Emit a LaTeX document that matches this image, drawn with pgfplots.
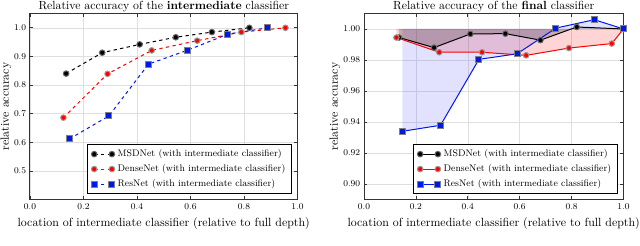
\documentclass[border=0pt]{standalone}
\usepackage{pgfplots}
\pgfplotsset{compat=1.18}
\definecolor{msd}{rgb}{0,0,0}
\definecolor{dense}{rgb}{1,0,0}
\definecolor{res}{rgb}{0.0,0.1,0.9}
\pgfplotsset{
  myax/.style={
    scale only axis,
    xmin=0, xmax=1,
    xtick={0,0.2,...,1.0},
    grid=major,
    grid style={gray!25, line width=0.5pt},
    axis line style={black!80, line width=0.9pt},
    tick align=inside,
    tick pos=both,
    major tick length=3pt,
    tick style={black!80, line width=0.6pt},
    ticklabel style={font=\fontsize{7.9}{9}\selectfont},
    x tick label style={/pgf/number format/.cd, fixed, fixed zerofill, precision=1},
    title style={inner sep=0pt, yshift=-5pt, font=\fontsize{10.6}{12}\selectfont},
    xlabel style={yshift=-0.5pt, font=\fontsize{10.7}{12}\selectfont},
    xlabel={location of intermediate classifier (relative to full depth)},
    ylabel={relative accuracy},
    legend style={at={(1,0)}, anchor=south east, xshift=-5pt, yshift=5pt,
      draw=black, line width=0.9pt, font=\fontsize{8.6}{10}\selectfont, fill=white,
      inner xsep=3pt, inner ysep=2pt, row sep=0.5pt,
      nodes={inner sep=2.5pt}},
    legend cell align=left,
    legend image code/.code={\draw[mark repeat=2,mark phase=1,#1] plot coordinates {(0cm,0cm) (0.28cm,0cm) (0.56cm,0cm)};},
  },
  msdst/.style={msd, mark=*, mark size=2.5pt, mark options={solid, fill=msd, draw=black!60}},
  densest/.style={dense, mark=*, mark size=2.5pt, mark options={solid, fill=dense, draw=black!40}},
  resst/.style={res, mark=square*, mark size=2.7pt, mark options={solid, fill=res, draw=black!50}},
}
\begin{document}
\begin{tikzpicture}
\useasboundingbox (0pt,0pt) rectangle (576pt,221.4pt);
% ---------------- left
\begin{axis}[myax,
  at={(27pt,41.85pt)}, anchor=south west,
  width=240.75pt, height=167.4pt,
  ymin=0.4, ymax=1.05,
  ytick={0.5,0.6,...,1.0},
  y tick label style={/pgf/number format/.cd, fixed, fixed zerofill, precision=1},
  ylabel style={at={(axis description cs:-0.09,0.5)}, anchor=center, font=\fontsize{10.7}{12}\selectfont},
  title={Relative accuracy of the \textbf{intermediate} classifier},
]
\addplot[msdst, dashed, line width=0.9pt] coordinates {
(0.135,0.840) (0.27,0.913) (0.41,0.942) (0.545,0.967) (0.68,0.985) (0.82,1.000)};
\addlegendentry{MSDNet (with intermediate classifier)}
\addplot[densest, dashed, line width=0.9pt] coordinates {
(0.125,0.686) (0.29,0.839) (0.455,0.921) (0.625,0.955) (0.79,0.985) (0.955,1.000)};
\addlegendentry{DenseNet (with intermediate classifier)}
\addplot[resst, dashed, line width=0.9pt] coordinates {
(0.148,0.612) (0.295,0.692) (0.443,0.873) (0.59,0.922) (0.74,0.978) (0.888,1.000)};
\addlegendentry{ResNet (with intermediate classifier)}
\end{axis}
% ---------------- right
\begin{axis}[myax,
  at={(327.6pt,41.85pt)}, anchor=south west,
  width=233.5pt, height=167.4pt,
  ymin=0.89, ymax=1.01,
  ytick={0.90,0.92,...,1.001},
  y tick label style={/pgf/number format/.cd, fixed, fixed zerofill, precision=2},
  ylabel style={at={(axis description cs:-0.112,0.5)}, anchor=center, font=\fontsize{10.7}{12}\selectfont},
  title={Relative accuracy of the \textbf{final} classifier},
]
\addplot[draw=none, fill=red, fill opacity=0.17, forget plot] coordinates {
(0.125,0.9945) (0.29,0.985) (0.455,0.985) (0.625,0.983) (0.79,0.9877) (0.955,0.9906) (1.0,1.0) (0.125,1.0)} -- cycle;
\addplot[draw=none, fill=blue!80!white, fill opacity=0.14, forget plot] coordinates {
(0.148,0.934) (0.295,0.9379) (0.443,0.9804) (0.59,0.984) (0.74,1.0006) (0.888,1.006) (1.0,1.0) (0.148,1.0)} -- cycle;
\addplot[draw=none, fill=black, fill opacity=0.2, forget plot] coordinates {
(0.135,0.9945) (0.27,0.988) (0.41,0.9968) (0.545,0.997) (0.68,0.9928) (0.82,1.0013) (1.0,1.0) (0.135,1.0)} -- cycle;
\addplot[msdst, line width=0.9pt] coordinates {
(0.135,0.9945) (0.27,0.988) (0.41,0.9968) (0.545,0.997) (0.68,0.9928) (0.82,1.0013) (1.0,1.0)};
\addlegendentry{MSDNet (with intermediate classifier)}
\addplot[densest, line width=0.9pt] coordinates {
(0.125,0.9945) (0.29,0.985) (0.455,0.985) (0.625,0.983) (0.79,0.9877) (0.955,0.9906) (1.0,1.0)};
\addlegendentry{DenseNet (with intermediate classifier)}
\addplot[resst, line width=0.9pt] coordinates {
(0.148,0.934) (0.295,0.9379) (0.443,0.9804) (0.59,0.984) (0.74,1.0006) (0.888,1.006) (1.0,1.0)};
\addlegendentry{ResNet (with intermediate classifier)}
\end{axis}
\end{tikzpicture}
\end{document}
